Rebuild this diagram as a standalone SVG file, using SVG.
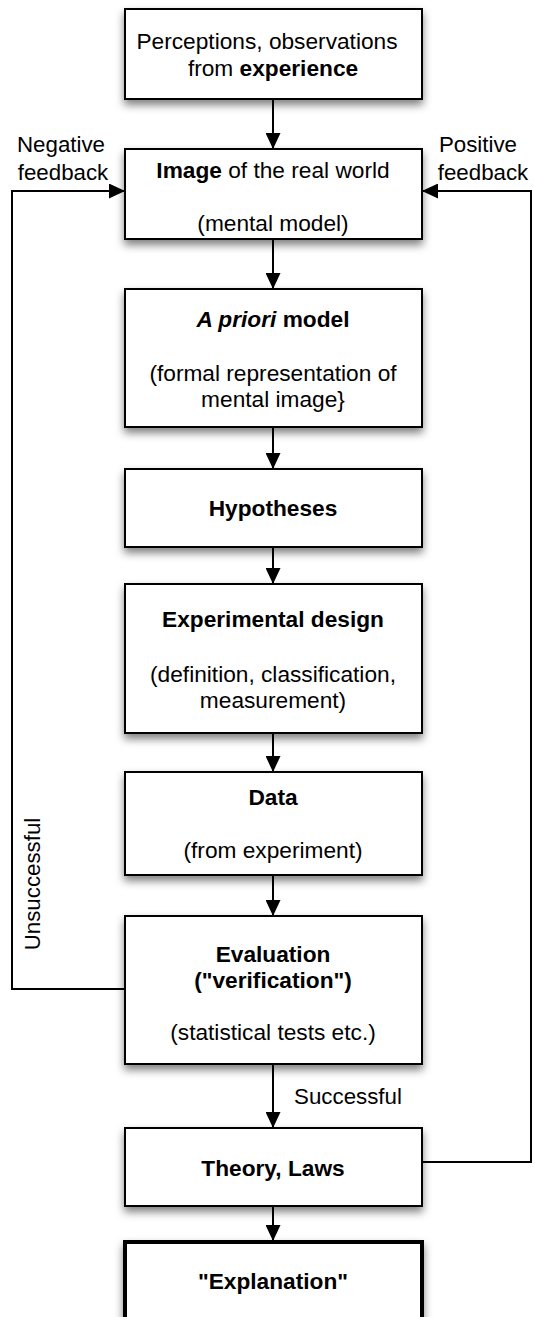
<svg xmlns="http://www.w3.org/2000/svg" width="534" height="1317" viewBox="0 0 534 1317">
<style>
.box{fill:#fff;stroke:#000;stroke-width:2}
.t{font-family:"Liberation Sans",Arial,sans-serif;font-size:22.7px;fill:#000;text-anchor:middle}
.b{font-weight:bold}
.lbl{font-family:"Liberation Sans",Arial,sans-serif;font-size:22.3px;fill:#000;text-anchor:middle}
.c{fill:none;stroke:#000;stroke-width:2}
</style>
<defs>
<filter id="sh" x="-10%" y="-10%" width="125%" height="140%">
<feDropShadow dx="0" dy="5" stdDeviation="4" flood-color="#000" flood-opacity="0.5"/>
</filter>
<marker id="ah" markerUnits="userSpaceOnUse" markerWidth="16" markerHeight="15" refX="16" refY="7.5" orient="auto">
<path d="M0,0 L16,7.5 L0,15 z" fill="#000"/>
</marker>
</defs>
<g id="connectors">
<line class="c" x1="273" y1="99" x2="273" y2="149" marker-end="url(#ah)"/>
<line class="c" x1="273" y1="239" x2="273" y2="289" marker-end="url(#ah)"/>
<line class="c" x1="273" y1="427" x2="273" y2="469" marker-end="url(#ah)"/>
<line class="c" x1="273" y1="547" x2="273" y2="584" marker-end="url(#ah)"/>
<line class="c" x1="273" y1="733" x2="273" y2="772" marker-end="url(#ah)"/>
<line class="c" x1="273" y1="875" x2="273" y2="916" marker-end="url(#ah)"/>
<line class="c" x1="273" y1="1064" x2="273" y2="1128" marker-end="url(#ah)"/>
<line class="c" x1="273" y1="1206" x2="273" y2="1241" marker-end="url(#ah)"/>
<polyline class="c" points="125,989 12,989 12,191 125,191" marker-end="url(#ah)"/>
<polyline class="c" points="422,1162 531,1162 531,191 422,191" marker-end="url(#ah)"/>
<text class="lbl" x="61" y="152">Negative</text>
<text class="lbl" x="63" y="180">feedback</text>
<text class="lbl" x="478" y="152">Positive</text>
<text class="lbl" x="483" y="180">feedback</text>
<text class="lbl" transform="translate(40,884) rotate(-90)">Unsuccessful</text>
<text class="lbl" x="348" y="1104">Successful</text>
</g>
<g id="n1">
<rect class="box" x="125" y="9" width="297" height="90" filter="url(#sh)"/>
<text class="t" x="267" y="49">Perceptions, observations</text>
<text class="t" x="273" y="76">from <tspan class="b">experience</tspan></text>
</g>
<g id="n2">
<rect class="box" x="125" y="149" width="297" height="90" filter="url(#sh)"/>
<text class="t" x="273" y="178"><tspan class="b">Image</tspan> of the real world</text>
<text class="t" x="273" y="231">(mental model)</text>
</g>
<g id="n3">
<rect class="box" x="125" y="289" width="297" height="138" filter="url(#sh)"/>
<text class="t b" x="273" y="327"><tspan font-style="italic">A priori</tspan> model</text>
<text class="t" x="273" y="381">(formal representation of</text>
<text class="t" x="273" y="407">mental image}</text>
</g>
<g id="n4">
<rect class="box" x="125" y="469" width="297" height="78" filter="url(#sh)"/>
<text class="t b" x="273" y="516">Hypotheses</text>
</g>
<g id="n5">
<rect class="box" x="125" y="584" width="297" height="149" filter="url(#sh)"/>
<text class="t b" x="273" y="627">Experimental design</text>
<text class="t" x="273" y="682">(definition, classification,</text>
<text class="t" x="273" y="708">measurement)</text>
</g>
<g id="n6">
<rect class="box" x="125" y="772" width="297" height="103" filter="url(#sh)"/>
<text class="t b" x="273" y="805">Data</text>
<text class="t" x="273" y="858">(from experiment)</text>
</g>
<g id="n7">
<rect class="box" x="125" y="916" width="297" height="148" filter="url(#sh)"/>
<text class="t b" x="273" y="962">Evaluation</text>
<text class="t b" x="273" y="988">("verification")</text>
<text class="t" x="273" y="1040">(statistical tests etc.)</text>
</g>
<g id="n8">
<rect class="box" x="125" y="1128" width="297" height="78" filter="url(#sh)"/>
<text class="t b" x="273" y="1176">Theory, Laws</text>
</g>
<g id="n9">
<rect class="box" x="125" y="1242" width="297" height="90" style="stroke-width:4" filter="url(#sh)"/>
<text class="t b" x="273" y="1289">"Explanation"</text>
</g>
</svg>
